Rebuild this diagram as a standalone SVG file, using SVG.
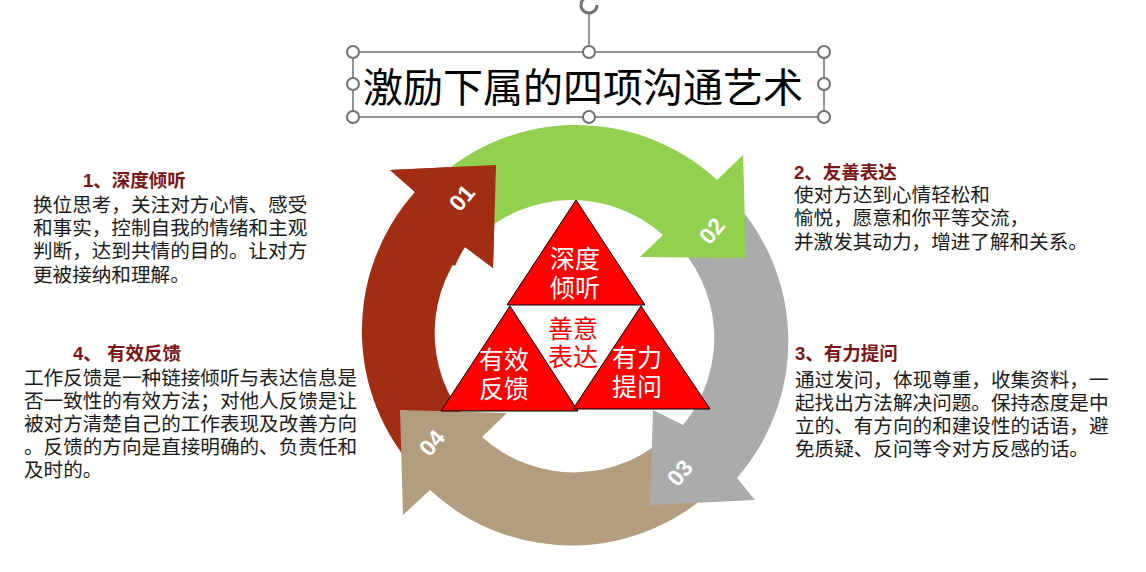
<svg xmlns="http://www.w3.org/2000/svg" width="1146" height="572" viewBox="0 0 1146 572">
<style>
.t{font-family:"Liberation Sans","Noto Sans CJK SC",sans-serif;font-size:19.6px;fill:#1a1a1a}
.h{font-family:"Liberation Sans","Noto Sans CJK SC",sans-serif;font-size:18.5px;font-weight:bold;fill:#7a1518}
.n{font-family:"Liberation Sans",sans-serif;font-size:23px;font-weight:bold;fill:#fff;text-anchor:middle}
.w{font-family:"Liberation Sans","Noto Sans CJK SC",sans-serif;font-size:25px;fill:#fff;text-anchor:middle}
.hd{fill:#fff;stroke:#707070;stroke-width:2}
.tri{fill:#ff0000;stroke:#000;stroke-width:1}
</style>
<rect width="1146" height="572" fill="#fff"/>
<g id="title">
<line x1="589" y1="52" x2="589" y2="14" stroke="#707070" stroke-width="1.5"/>
<path d="M597,5 A8,8 0 1 1 585,-2" fill="none" stroke="#707070" stroke-width="3"/>
<rect x="353" y="52" width="471" height="65" fill="none" stroke="#707070" stroke-width="1.5"/>
<text x="583" y="102" text-anchor="middle" style="font-family:'Liberation Sans','Noto Sans CJK SC',sans-serif;font-size:40px;fill:#000">激励下属的四项沟通艺术</text>
<circle class="hd" cx="353" cy="52" r="6"/><circle class="hd" cx="589" cy="52" r="6"/><circle class="hd" cx="824" cy="52" r="6"/>
<circle class="hd" cx="353" cy="84" r="6"/><circle class="hd" cx="824" cy="84" r="6"/>
<circle class="hd" cx="353" cy="117" r="6"/><circle class="hd" cx="589" cy="117" r="6"/><circle class="hd" cx="824" cy="117" r="6"/>
</g>
<g id="arrows">
<path id="a1" fill="#a32d12" d="M427,482 A208,208 0 0 1 415,192 L390,170 L496,165 L493,268 L465,247 A137,137 0 0 0 477,432 Z"/>
<path id="a4" fill="#b29d7e" d="M721,482 A208,208 0 0 1 430,490 L403,515 L400,410 L507,413 L482,437 A137,137 0 0 0 671,432 Z"/>
<path id="a3" fill="#ababab" d="M721,188 A208,208 0 0 1 737,478 L755,500 L650,505 L653,410 L683,425 A137,137 0 0 0 671,238 Z"/>
<path id="a2" fill="#92d050" d="M427,188 A208,208 0 0 1 717,180 L743,155 L746,258 L640,257 L663,235 A137,137 0 0 0 477,238 Z"/>
<path fill="#a32d12" d="M394,231 A208,208 0 0 1 415,192 L390,170 L496,165 L493,268 L465,247 A137,137 0 0 0 455,266 Z"/>
<text class="n" transform="translate(468,203) rotate(-50)">01</text>
<text class="n" transform="translate(718,236) rotate(-50)">02</text>
<text class="n" transform="translate(686,478) rotate(-50)">03</text>
<text class="n" transform="translate(438,448) rotate(-50)">04</text>
</g>
<g id="triangles">
<polygon class="tri" points="507,305 576,200 645,305"/>
<polygon class="tri" points="441,411 510,306 578,411"/>
<polygon class="tri" points="573,409 641,306 710,409"/>
<text class="w" x="575" y="268">深度</text><text class="w" x="575" y="297">倾听</text>
<text class="w" x="504" y="369">有效</text><text class="w" x="504" y="398">反馈</text>
<text class="w" x="637" y="367">有力</text><text class="w" x="637" y="396">提问</text>
<text class="w" x="573" y="338" style="fill:#ff0000">善意</text><text class="w" x="573" y="366" style="fill:#ff0000">表达</text>
</g>
<g id="n1">
<text class="h" x="83" y="187">1、深度倾听</text>
<text class="t" x="33" y="212">换位思考，关注对方心情、感受</text>
<text class="t" x="33" y="235">和事实，控制自我的情绪和主观</text>
<text class="t" x="33" y="258">判断，达到共情的目的。让对方</text>
<text class="t" x="33" y="282">更被接纳和理解。</text>
</g>
<g id="n4">
<text class="h" x="73" y="360">4、 有效反馈</text>
<text class="t" x="24" y="385">工作反馈是一种链接倾听与表达信息是</text>
<text class="t" x="24" y="408">否一致性的有效方法；对他人反馈是让</text>
<text class="t" x="24" y="431">被对方清楚自己的工作表现及改善方向</text>
<text class="t" x="24" y="454">。反馈的方向是直接明确的、负责任和</text>
<text class="t" x="24" y="477">及时的。</text>
</g>
<g id="n2">
<text class="h" x="794" y="179">2、友善表达</text>
<text class="t" x="794" y="202">使对方达到心情轻松和</text>
<text class="t" x="794" y="225">愉悦，愿意和你平等交流，</text>
<text class="t" x="794" y="249">并激发其动力，增进了解和关系。</text>
</g>
<g id="n3">
<text class="h" x="795" y="360">3、有力提问</text>
<text class="t" x="795" y="387">通过发问，体现尊重，收集资料，一</text>
<text class="t" x="795" y="410">起找出方法解决问题。保持态度是中</text>
<text class="t" x="795" y="433">立的、有方向的和建设性的话语，避</text>
<text class="t" x="795" y="456">免质疑、反问等令对方反感的话。</text>
</g>
</svg>
